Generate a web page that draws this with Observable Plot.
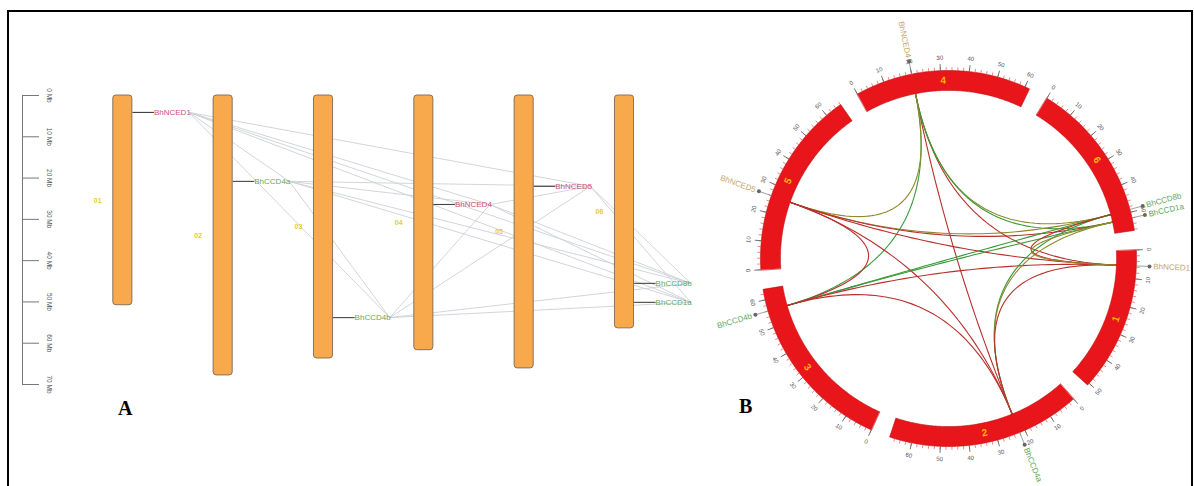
<!DOCTYPE html>
<html><head><meta charset="utf-8">
<script src="https://cdn.jsdelivr.net/npm/d3@7"></script>
<script src="https://cdn.jsdelivr.net/npm/@observablehq/plot@0.6"></script>
<style>
body{margin:0;background:#fff;font-family:"Liberation Sans",Arial,sans-serif;}
#wrap{position:relative;width:1194px;height:486px;overflow:hidden;background:#fff;}
#frame{position:absolute;left:7px;top:10px;width:1186px;height:490px;border:2px solid #000;box-sizing:border-box;z-index:5;}
.panel{position:absolute;top:0;}
.lab{position:absolute;font-family:"Liberation Serif","Times New Roman",serif;font-weight:bold;font-size:20px;z-index:6;}
</style></head><body>
<div id="wrap">
  <div id="A" class="panel" style="left:0;width:710px"></div>
  <div id="B" class="panel" style="left:700px;width:494px"></div>
  <div id="frame"></div>
  <div class="lab" style="left:118px;top:397px">A</div>
  <div class="lab" style="left:739px;top:395px">B</div>
</div>
<script>
// ---------- data ----------
const chromosomes = ["01", "02", "03", "04", "05", "06"];
const chromLengths = [50.8, 67.8, 63.7, 61.7, 66.1, 56.4]; // Mb
const scaleTicks = [0, 10, 20, 30, 40, 50, 60, 70];        // Mb
const geneNames = ["BhNCED1", "BhCCD4a", "BhCCD4b", "BhNCED4", "BhNCED5", "BhCCD8b", "BhCCD1a"];
const geneChrom = [1, 2, 3, 4, 5, 6, 6];
const genePos = [4.1, 20.8, 53.8, 26.4, 22.0, 45.5, 50.1];   // Mb, panel A
const circosPos = [5.5, 22.0, 56.0, 20.0, 26.0, 49.0, 52.0]; // Mb, panel B
const geneFamily = ["NCED", "CCD", "CCD", "NCED", "NCED", "CCD", "CCD"];
const linkFrom = [3, 3, 3, 3, 3, 3, 4, 4, 4, 4, 4, 2, 2, 2, 2, 1, 1, 1, 0, 0];
const linkTo   = [1, 0, 5, 6, 2, 4, 5, 6, 0, 1, 2, 5, 6, 0, 1, 5, 6, 0, 5, 6];
const linkClass = ["r", "r", "o", "g", "g", "o", "o", "r", "r", "r", "r", "g", "g", "r", "r", "g", "o", "r", "r", "o"];
const circosOrder = [4, 6, 1, 2, 3, 5]; // clockwise from top

// ---------- derived tables ----------
const chromData = chromosomes.map((name, k) => ({name, i: k + 1, len: chromLengths[k]}));
const genes = geneNames.map((name, k) => ({name, chr: geneChrom[k], pos: genePos[k], cpos: circosPos[k], fam: geneFamily[k]}));
const links = linkFrom.map((f, k) => ({id: k, a: genes[f], b: genes[linkTo[k]], cls: linkClass[k]}));

const famColorA = {NCED: "#c9527c", CCD: "#62a862"};
const famColorB = {NCED: "#c8a46c", CCD: "#5fa85f"};
const linkColor = {r: "#b8302c", o: "#8e8a2c", g: "#3a983a"};
const font = "Liberation Sans, Arial, sans-serif";

// ---------- Panel A ----------
const labX = 0.66;
const plotA = Plot.plot({
  width: 710, height: 486,
  marginLeft: 22, marginRight: 86, marginTop: 95, marginBottom: 102,
  x: {domain: [0, 6], axis: null},
  y: {domain: [0, 70], reverse: true, axis: null},
  color: {type: "identity"},
  style: {background: "transparent", fontFamily: font},
  marks: [
    Plot.ruleX([0], {x: d => d, y1: scaleTicks[0], y2: scaleTicks[scaleTicks.length - 1], stroke: "#777", strokeWidth: 1}),
    Plot.ruleY(scaleTicks, {y: d => d, x1: 0, x2: 0.17, stroke: "#777", strokeWidth: 1}),
    Plot.text(scaleTicks, {x: 0, y: d => d, text: d => `${d} Mb`, rotate: 90, dx: 27, fontSize: 6.5, fill: "#555"}),
    Plot.link(links, {x1: d => d.a.chr + labX, y1: d => d.a.pos, x2: d => d.b.chr + labX, y2: d => d.b.pos,
      stroke: "#cdd0d6", strokeWidth: 0.9}),
    Plot.rect(chromData, {x1: d => d.i - 0.095, x2: d => d.i + 0.095, y1: 0, y2: "len",
      fill: "#f8a94c", stroke: "#7d6650", strokeWidth: 0.9, rx: 3}),
    Plot.text(chromData, {x: d => d.i - 0.25, y: d => d.len / 2, text: "name", fill: "#e6cc2e", fontSize: 7, fontWeight: "bold"}),
    Plot.link(genes, {x1: d => d.chr + 0.095, x2: d => d.chr + 0.31, y1: "pos", y2: "pos", stroke: "#444", strokeWidth: 1.1}),
    Plot.text(genes, {x: d => d.chr + 0.31, y: "pos", text: "name", textAnchor: "start", fontSize: 8,
      fill: d => famColorA[d.fam]})
  ]
});
document.getElementById("A").append(plotA);

// ---------- Panel B (circos) ----------
const degPerMb = 0.884, startDeg = -29, gapDeg = 6;
const segStart = {};
{ let a = startDeg; for (const c of circosOrder) { segStart[c] = a; a += chromLengths[c - 1] * degPerMb + gapDeg; } }
const deg = (c, mb) => segStart[c] + mb * degPerMb;
const P = (r, dg) => ({x: r * Math.sin(dg * Math.PI / 180), y: r * Math.cos(dg * Math.PI / 180)});
const tang = dg => { const a = ((dg % 360) + 360) % 360; return (a > 90 && a < 270) ? a - 180 : a; };
const RO = 1, RI = 0.894;

const ringPts = [];
for (const c of circosOrder) {
  const L = chromLengths[c - 1], n = Math.ceil(L / 0.5);
  for (let k = 0; k <= n; k++) ringPts.push({c, ...P(RO, deg(c, Math.min(L, k * 0.5)))});
  for (let k = n; k >= 0; k--) ringPts.push({c, ...P(RI, deg(c, Math.min(L, k * 0.5)))});
}
const minor = [], major = [];
for (const c of circosOrder) {
  const L = chromLengths[c - 1];
  for (let m = 0; m <= L; m += 2) minor.push({c, m, d: deg(c, m)});
  for (let m = 0; m <= L; m += 10) major.push({c, m, d: deg(c, m)});
}
const ringLabels = circosOrder.map(c => ({c, d: deg(c, chromLengths[c - 1] / 2)}));
const gB = genes.map(g => ({...g, d: deg(g.chr, g.cpos)}));
const linkPts = [];
for (const l of links) {
  const p0 = P(RI, deg(l.a.chr, l.a.cpos)), p2 = P(RI, deg(l.b.chr, l.b.cpos));
  for (let k = 0; k <= 50; k++) {
    const t = k / 50, w0 = (1 - t) * (1 - t), w2 = t * t;
    linkPts.push({id: l.id, cls: l.cls, x: w0 * p0.x + w2 * p2.x, y: w0 * p0.y + w2 * p2.y});
  }
}
const norm = dg => ((dg % 360) + 360) % 360;
const gRight = gB.filter(g => norm(g.d) < 180), gLeft = gB.filter(g => norm(g.d) >= 180);

const plotB = Plot.plot({
  width: 494, height: 486,
  marginLeft: 60, marginRight: 58, marginTop: 70, marginBottom: 40,
  x: {domain: [-1, 1], axis: null},
  y: {domain: [-1, 1], axis: null},
  color: {type: "identity"},
  style: {background: "transparent", fontFamily: font},
  marks: [
    Plot.line(linkPts, {x: "x", y: "y", z: "id", stroke: d => linkColor[d.cls], strokeWidth: 1.1}),
    Plot.line(ringPts, {x: "x", y: "y", z: "c", fill: "#e8161b", stroke: "#b80d10", strokeWidth: 0.6, curve: "linear-closed"}),
    Plot.link(minor, {x1: d => P(RO, d.d).x, y1: d => P(RO, d.d).y, x2: d => P(1.018, d.d).x, y2: d => P(1.018, d.d).y,
      stroke: "#e33", strokeWidth: 0.6}),
    Plot.link(major, {x1: d => P(RO, d.d).x, y1: d => P(RO, d.d).y, x2: d => P(1.035, d.d).x, y2: d => P(1.035, d.d).y,
      stroke: "#666", strokeWidth: 0.9}),
    Plot.text(major, {x: d => P(1.068, d.d).x, y: d => P(1.068, d.d).y, text: d => `${d.m}`, rotate: d => tang(d.d),
      fontSize: 6, fill: "#555"}),
    Plot.text(ringLabels, {x: d => P(0.947, d.d).x, y: d => P(0.947, d.d).y, text: d => `${d.c}`, rotate: d => tang(d.d),
      fontSize: 10, fontWeight: "bold", fill: "#ffb400"}),
    Plot.link(gB, {x1: d => P(RO, d.d).x, y1: d => P(RO, d.d).y, x2: d => P(1.07, d.d).x, y2: d => P(1.07, d.d).y,
      stroke: "#888", strokeWidth: 0.8}),
    Plot.dot(gB, {x: d => P(1.07, d.d).x, y: d => P(1.07, d.d).y, r: 2, fill: "#666"}),
    Plot.text(gRight, {x: d => P(1.09, d.d).x, y: d => P(1.09, d.d).y, text: "name", rotate: d => d.d - 90,
      textAnchor: "start", fontSize: 8, fill: d => famColorB[d.fam]}),
    Plot.text(gLeft, {x: d => P(1.09, d.d).x, y: d => P(1.09, d.d).y, text: "name", rotate: d => d.d + 90,
      textAnchor: "end", fontSize: 8, fill: d => famColorB[d.fam]})
  ]
});
document.getElementById("B").append(plotB);
</script>
</body></html>
